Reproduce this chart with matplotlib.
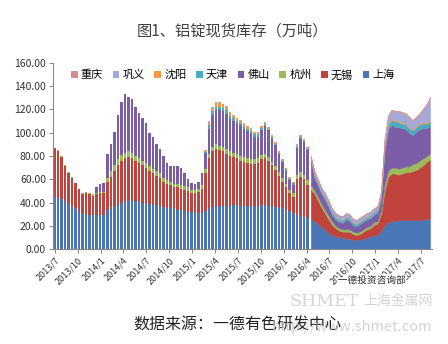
import numpy as np
import pandas as pd
import matplotlib
matplotlib.use('Agg')
import matplotlib.pyplot as plt
import matplotlib.dates as mdates
import matplotlib.patheffects as pe

plt.rcParams['font.family'] = ['Noto Sans CJK SC', 'DejaVu Sans']

# 双周数据（万吨）
dates = pd.date_range('2013-07-01', periods=108, freq='14D')

shanghai = [45, 45, 43, 41, 39, 37, 35, 32, 31, 30, 29, 29, 29, 29, 29,
            34, 36, 36, 38, 40, 41, 42, 41, 41, 41, 40, 40, 39, 38, 38, 37,
            36, 35, 35, 35, 34, 34, 33, 32, 32, 32, 31, 31,
            33, 35, 36, 36, 37, 37, 37, 37, 38, 38, 37, 37, 37, 37, 37, 36,
            38, 38, 37, 37, 36, 35, 35, 34, 33, 31, 29, 28, 28, 27, 26,
            24, 22, 19, 17, 14, 12, 11, 10, 10, 9, 9, 8, 8, 8, 9, 10, 11, 12, 12,
            16, 20, 23, 24, 24, 25, 25, 25, 25, 25, 25, 25, 25, 26, 26]

wuxi = [41.5, 39.5, 36.5, 30.5, 26.5, 24.5, 21.5, 19.5, 16.5, 18, 18, 17, 18, 19, 19,
        24, 26, 31, 34, 36, 37, 37, 37, 35, 33, 32, 30, 28, 27, 25, 24,
        22, 21, 20, 18, 19, 18, 18, 18, 16, 16, 18, 21,
        32, 43, 48, 50, 48, 47, 45, 43, 41, 40, 39, 38, 37, 36, 36, 38,
        39, 40, 39, 35, 32, 28, 23, 19, 15, 14, 31, 34, 32, 28, 25,
        24, 20, 17, 14, 12, 9, 7, 6, 5, 6, 6, 5, 4, 5, 6, 7, 7, 9, 10,
        14, 30, 39, 41, 41, 39, 40, 41, 41, 42, 43, 45, 47, 49, 51]

hangzhou = ([0.5] * 9 + [1] * 6 + [3] + [5] * 7 + [4] * 8 + [3] * 12 + [4] * 18
            + [3] * 8 + [4] * 5 + [3] * 6 + [2] * 13 + [3] + [5] * 8 + [6] * 4 + [5, 5])

foshan = ([0] * 12 + [5, 7, 8,
          21, 23, 29, 38, 45, 50, 47, 46, 42, 39, 37, 34, 29, 27, 23, 21,
          19, 15, 13, 15, 15, 15, 11, 7, 6, 5, 6, 10,
          13.5, 21.5, 27.5, 29.5, 30.5, 30.5, 30.5, 27.5, 27.5, 26.5, 26.5, 24.5, 23.5, 22.5, 19.5, 18.5,
          21.5, 23.5, 23.5, 20.5, 18.5, 15.5, 13.5, 11.5, 8.5, 7.5, 23, 29, 28, 26, 22,
          10.5, 9.5, 8.5, 8.5, 7.5, 5.5, 5.5, 5.5, 5.5, 8.5, 7.5, 5.5, 5.5, 6.5, 6.5, 6.5, 6.5, 6.5, 7.5,
          10, 28, 36, 37, 35, 36, 34, 32, 29, 25, 27, 27, 26, 24, 24])

tianjin = [0] * 43 + [1] + [3] * 7 + [2] * 10 + [1] * 13 + [2] * 19 + [2] + [4, 4, 4, 5] + [4] * 10

shenyang = [0] * 43 + [1] + [3] * 7 + [2] * 8 + [1] * 15 + [0.5] * 19 + [1] * 15

gongyi = ([0] * 43 + [0.5] * 26 + [1] * 5 + [3] * 20
          + [6, 6, 7, 7, 8, 8, 8, 8, 7, 7, 8, 11, 15, 19])

chongqing = [0] * 93 + [1] * 15

series = [
    ('上海', shanghai, '#4A76B8'),
    ('无锡', wuxi, '#C0433D'),
    ('杭州', hangzhou, '#9BBB59'),
    ('佛山', foshan, '#7B5EA7'),
    ('天津', tianjin, '#4BACC6'),
    ('沈阳', shenyang, '#F79646'),
    ('巩义', gongyi, '#A3AAD8'),
    ('重庆', chongqing, '#D98B8B'),
]

fig = plt.figure(figsize=(4.48, 3.44), dpi=100)
ax = fig.add_axes([0.118, 0.276, 0.846, 0.541])

x = mdates.date2num(dates)
# 2016年4月之前为间隔柱，之后画成连续面积
gapped = np.arange(len(x)) < 73
bottom = np.zeros(len(x))
for name, vals, color in series:
    vals = np.array(vals, dtype=float)
    ax.bar(x[gapped], vals[gapped], width=10, bottom=bottom[gapped],
           color=color, label=name, linewidth=0)
    top = bottom + vals
    ax.fill_between(x[~gapped], bottom[~gapped], top[~gapped],
                    color=color, linewidth=0.3, edgecolor=color)
    bottom = top

start = mdates.date2num(pd.Timestamp('2013-07-01'))
ax.set_xlim(start - 7, start + 1505)
ax.set_ylim(0, 160)
ax.set_yticks(np.arange(0, 161, 20))
ax.set_yticklabels([f'{v:.2f}' for v in range(0, 161, 20)], fontsize=7.5, color='#333333')

quarters = pd.date_range('2013-07-01', '2017-07-01', freq='QS')
ax.set_xticks(mdates.date2num(quarters))
ax.set_xticklabels([f'{d.year}/{d.month}' for d in quarters], rotation=45,
                   ha='right', rotation_mode='anchor', fontsize=6.5, color='#333333')

for side in ['top', 'right']:
    ax.spines[side].set_visible(False)
for side in ['left', 'bottom']:
    ax.spines[side].set_color('#888888')
    ax.spines[side].set_linewidth(0.8)
ax.tick_params(axis='both', direction='out', length=3, width=0.7, color='#888888', pad=2)

handles, labels = ax.get_legend_handles_labels()
ax.legend(handles[::-1], labels[::-1], loc='upper center', bbox_to_anchor=(0.475, 1.0),
          ncol=8, frameon=False, fontsize=8, handlelength=0.6, handleheight=0.6,
          handletextpad=0.3, columnspacing=0.85, borderaxespad=0.2)

fig.text(0.52, 0.91, '图1、铝锭现货库存（万吨）', ha='center', va='center',
         fontsize=11, color='#404040')
fig.text(0.53, 0.055, '数据来源：一德有色研发中心', ha='center', va='center',
         fontsize=11.5, color='#222222')

# 水印
fig.text(0.83, 0.185, '一德投资咨询部', ha='center', va='center', fontsize=7,
         color='#222222', path_effects=[pe.withStroke(linewidth=2.5, foreground='white')])
fig.text(0.647, 0.125, 'SHMET', fontsize=12.5, family='DejaVu Serif', color='#c8c8c8',
         va='center', alpha=0.8)
fig.text(0.965, 0.125, '上海金属网', fontsize=10, color='#c8c8c8', va='center',
         ha='right', alpha=0.8)
fig.text(0.965, 0.05, 'http://www.shmet.com', fontsize=10.5, color='#c8c8c8',
         va='center', ha='right', alpha=0.8)

fig.savefig('out.png', dpi=100)
